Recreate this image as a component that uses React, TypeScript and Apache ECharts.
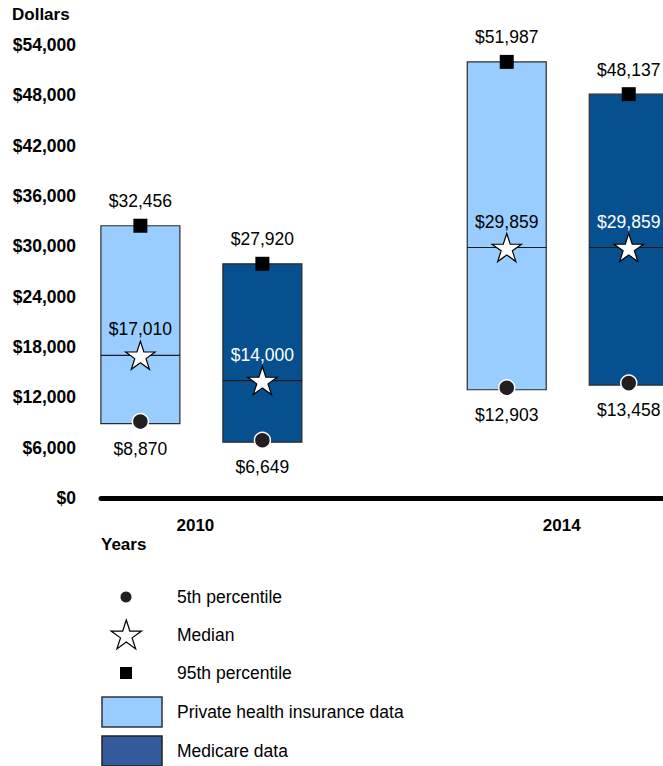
import React, { useEffect, useRef } from "react";
import * as echarts from "echarts";

const categories = ["2010", "2014"];
const privateP5 = [8870, 12903];
const privateMedian = [17010, 29859];
const privateP95 = [32456, 51987];
const medicareP5 = [6649, 13458];
const medicareMedian = [14000, 29859];
const medicareP95 = [27920, 48137];
const yMax = 54000;
const yInterval = 6000;
const legendLabels = [
  "5th percentile",
  "Median",
  "95th percentile",
  "Private health insurance data",
  "Medicare data",
];

const FONT = "'Liberation Sans', Arial, Helvetica, sans-serif";
const FS = 17.5;
const PRIVATE_FILL = "#99CCFF";
const MEDICARE_FILL = "#07508F";
const MEDICARE_LEGEND = "#335A9B";

function starPoints(cx: number, cy: number, R: number) {
  const r = R * 0.382;
  const pts: number[][] = [];
  for (let k = 0; k < 10; k++) {
    const ang = -Math.PI / 2 + (k * Math.PI) / 5;
    const rad = k % 2 === 0 ? R : r;
    pts.push([cx + rad * Math.cos(ang), cy + rad * Math.sin(ang)]);
  }
  return pts;
}

function fmt(v: number) {
  return "$" + v.toLocaleString("en-US");
}

function makeRender(offset: number, fill: string, medianColor: string) {
  return (params: any, api: any) => {
    const xi = api.value(0);
    const p5 = api.value(1);
    const p50 = api.value(2);
    const p95 = api.value(3);
    const b = api.coord([xi, p5]);
    const m = api.coord([xi, p50]);
    const t = api.coord([xi, p95]);
    const cx = b[0] + offset;
    const half = 39.5;
    const textStyle = (text: string, color: string) => ({
      text,
      fill: color,
      fontSize: FS,
      fontFamily: FONT,
      align: "center",
      verticalAlign: "middle",
    });
    return {
      type: "group",
      children: [
        {
          type: "rect",
          shape: { x: cx - half, y: t[1], width: half * 2, height: b[1] - t[1] },
          style: { fill, stroke: "#2b2b2b", lineWidth: 1.2 },
        },
        {
          type: "line",
          shape: { x1: cx - half, y1: m[1], x2: cx + half, y2: m[1] },
          style: { stroke: "#1a1a1a", lineWidth: 1.2 },
        },
        {
          type: "rect",
          shape: { x: cx - 7, y: t[1] - 7, width: 14, height: 14 },
          style: { fill: "#000" },
        },
        {
          type: "circle",
          shape: { cx, cy: b[1] - 2, r: 8 },
          style: { fill: "#231F20", stroke: "#fff", lineWidth: 1.5 },
        },
        {
          type: "polygon",
          shape: { points: starPoints(cx, m[1] + 1.5, 15.5) },
          style: { fill: "#fff", stroke: "#000", lineWidth: 1.2 },
        },
        {
          type: "text",
          x: cx,
          y: t[1] - 24.5,
          style: textStyle(fmt(p95), "#000"),
        },
        {
          type: "text",
          x: cx,
          y: m[1] - 26,
          style: textStyle(fmt(p50), medianColor),
        },
        {
          type: "text",
          x: cx,
          y: b[1] + 25,
          style: textStyle(fmt(p5), "#000"),
        },
      ],
    };
  };
}

export default function App() {
  const ref = useRef<HTMLDivElement>(null);
  useEffect(() => {
    if (!ref.current) return;
    const chart = echarts.init(ref.current, null, { renderer: "svg" });

    const privateData = categories.map((_, i) => [i, privateP5[i], privateMedian[i], privateP95[i]]);
    const medicareData = categories.map((_, i) => [i, medicareP5[i], medicareMedian[i], medicareP95[i]]);

    const legendY = [597, 635, 673, 712, 751];
    const legendTextX = 177;
    const legendGraphics: any[] = [
      {
        type: "circle",
        shape: { cx: 126, cy: legendY[0], r: 5.5 },
        style: { fill: "#231F20" },
      },
      {
        type: "polygon",
        shape: { points: starPoints(126.3, legendY[1] + 1, 16) },
        style: { fill: "#fff", stroke: "#000", lineWidth: 1.2 },
      },
      {
        type: "rect",
        shape: { x: 120, y: legendY[2] - 6, width: 12, height: 12 },
        style: { fill: "#000" },
      },
      {
        type: "rect",
        shape: { x: 102, y: legendY[3] - 15, width: 60, height: 30 },
        style: { fill: PRIVATE_FILL, stroke: "#333", lineWidth: 1.5 },
      },
      {
        type: "rect",
        shape: { x: 102, y: legendY[4] - 15, width: 60, height: 30 },
        style: { fill: MEDICARE_LEGEND, stroke: "#222", lineWidth: 1.5 },
      },
      ...legendLabels.map((label, i) => ({
        type: "text",
        x: legendTextX,
        y: legendY[i],
        style: {
          text: label,
          fill: "#000",
          fontSize: FS,
          fontFamily: FONT,
          align: "left",
          verticalAlign: "middle",
        },
      })),
      {
        type: "text",
        x: 12,
        y: 14,
        style: {
          text: "Dollars",
          fill: "#000",
          fontSize: 17,
          fontWeight: "bold",
          fontFamily: FONT,
          align: "left",
          verticalAlign: "middle",
        },
      },
      {
        type: "text",
        x: 101,
        y: 544,
        style: {
          text: "Years",
          fill: "#000",
          fontSize: 17,
          fontWeight: "bold",
          fontFamily: FONT,
          align: "left",
          verticalAlign: "middle",
        },
      },
    ];

    chart.setOption({
      animation: false,
      backgroundColor: "#fff",
      grid: { left: 101, right: 0, top: 45, bottom: 268, containLabel: false },
      xAxis: {
        type: "value",
        min: -0.274,
        max: 1.26,
        axisLine: { show: true, onZero: false, lineStyle: { color: "#000", width: 5 } },
        axisTick: { show: false },
        splitLine: { show: false },
        axisLabel: {
          customValues: [0, 1],
          formatter: (v: number) => categories[Math.round(v)] ?? "",
          fontSize: 17,
          fontWeight: "bold",
          fontFamily: FONT,
          color: "#000",
          margin: 19,
          padding: [0, 12, 0, 0],
        },
      },
      yAxis: {
        type: "value",
        min: 0,
        max: yMax,
        interval: yInterval,
        axisLine: { show: false },
        axisTick: { show: false },
        splitLine: { show: false },
        axisLabel: {
          formatter: (v: number) => fmt(v),
          fontSize: FS,
          fontWeight: "bold",
          fontFamily: FONT,
          color: "#000",
          margin: 25,
        },
      },
      graphic: legendGraphics,
      series: [
        {
          type: "custom",
          name: "Private health insurance data",
          data: privateData,
          encode: { x: 0, y: [1, 2, 3] },
          renderItem: makeRender(-61, PRIVATE_FILL, "#000"),
          clip: false,
          z: 3,
        },
        {
          type: "custom",
          name: "Medicare data",
          data: medicareData,
          encode: { x: 0, y: [1, 2, 3] },
          renderItem: makeRender(61, MEDICARE_FILL, "#fff"),
          clip: false,
          z: 3,
        },
      ],
    });
    return () => chart.dispose();
  }, []);
  return (
    <div
      style={{
        position: "fixed",
        left: 0,
        top: 0,
        width: 663,
        height: 766,
        overflow: "hidden",
        background: "#fff",
      }}
    >
      <div ref={ref} style={{ width: 663, height: 766 }} />
    </div>
  );
}
